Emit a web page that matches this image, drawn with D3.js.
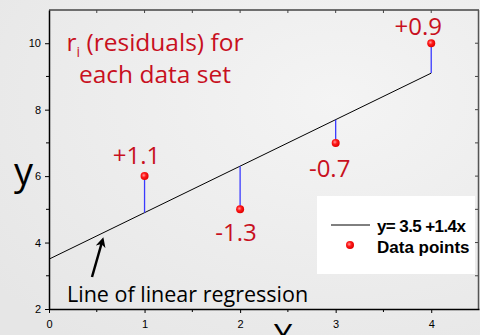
<!DOCTYPE html>
<html>
<head>
<meta charset="utf-8">
<script src="https://cdn.jsdelivr.net/npm/d3@7"></script>
<style>
  body { margin: 0; background: #ececec; }
  svg { display: block; }
</style>
</head>
<body>
<div id="chart"></div>
<script>
// data
var xValues = [1, 2, 3, 4];
var yValues = [6, 5, 7, 10];
var intercept = 3.5;
var slope = 1.4;
var residualLabels = ["+1.1", "-1.3", "-0.7", "+0.9"];
var xTicks = [0, 1, 2, 3, 4];
var yTicks = [2, 4, 6, 8, 10];

var width = 480, height = 335;
var margin = { top: 10, right: 1, bottom: 26, left: 49 };

var svg = d3.select("#chart").append("svg")
  .attr("width", width)
  .attr("height", height);

// faded photo-ish background
var defs = svg.append("defs");
var bg = defs.append("radialGradient").attr("id", "bg").attr("cx", "70%").attr("cy", "30%").attr("r", "90%");
bg.append("stop").attr("offset", "0%").attr("stop-color", "#f4f4f4");
bg.append("stop").attr("offset", "100%").attr("stop-color", "#e6e6e6");
var dotGrad = defs.append("radialGradient").attr("id", "dot").attr("cx", "40%").attr("cy", "40%").attr("r", "60%");
dotGrad.append("stop").attr("offset", "0%").attr("stop-color", "#ff9a9a");
dotGrad.append("stop").attr("offset", "45%").attr("stop-color", "#ff1a1a");
dotGrad.append("stop").attr("offset", "100%").attr("stop-color", "#e00000");

svg.append("rect").attr("width", width).attr("height", height).attr("fill", "url(#bg)");

var xScale = d3.scaleLinear().domain([0, 4.5]).range([margin.left, width - margin.right]);
var yScale = d3.scaleLinear().domain([2, 11]).range([height - margin.bottom, margin.top]);

// frame: top and right in gray
svg.append("line")
  .attr("x1", xScale(0)).attr("x2", xScale(4.5))
  .attr("y1", yScale(11)).attr("y2", yScale(11))
  .attr("stroke", "#6e6e6e").attr("stroke-width", 2);
svg.append("line")
  .attr("x1", xScale(4.5) - 0.5).attr("x2", xScale(4.5) - 0.5)
  .attr("y1", yScale(11)).attr("y2", yScale(2))
  .attr("stroke", "#555").attr("stroke-width", 1.5);

// inward ticks on top and right
d3.range(0.5, 4.5, 0.5).forEach(function(v) {
  svg.append("line")
    .attr("x1", xScale(v)).attr("x2", xScale(v))
    .attr("y1", yScale(11)).attr("y2", yScale(11) + 3)
    .attr("stroke", "#444");
});
d3.range(3, 11, 1).forEach(function(v) {
  svg.append("line")
    .attr("x1", xScale(4.5) - 1).attr("x2", xScale(4.5) - 4)
    .attr("y1", yScale(v)).attr("y2", yScale(v))
    .attr("stroke", "#444");
});

// axes
var xAxis = svg.append("g")
  .attr("transform", "translate(0," + yScale(2) + ")")
  .call(d3.axisBottom(xScale).tickValues(xTicks).tickFormat(d3.format("d")).tickSize(4).tickSizeOuter(0));
var yAxis = svg.append("g")
  .attr("transform", "translate(" + xScale(0) + ",0)")
  .call(d3.axisLeft(yScale).tickValues(yTicks).tickFormat(d3.format("d")).tickSize(4).tickSizeOuter(0));

[xAxis, yAxis].forEach(function(a) {
  a.select(".domain").attr("stroke", "#000").attr("stroke-width", 1.5);
  a.selectAll(".tick line").attr("stroke", "#000");
  a.selectAll(".tick text")
    .attr("fill", "#000")
    .style("font-family", "Liberation Sans, Arial, sans-serif")
    .style("font-size", "11px");
});
xAxis.selectAll(".tick text").attr("dy", "1.05em");
yAxis.selectAll(".tick text").attr("dx", "-1px");

// minor ticks
[0.5, 1.5, 2.5, 3.5].forEach(function(v) {
  svg.append("line")
    .attr("x1", xScale(v)).attr("x2", xScale(v))
    .attr("y1", yScale(2)).attr("y2", yScale(2) + 3)
    .attr("stroke", "#000");
});
[3, 5, 7, 9].forEach(function(v) {
  svg.append("line")
    .attr("x1", xScale(0)).attr("x2", xScale(0) - 3)
    .attr("y1", yScale(v)).attr("y2", yScale(v))
    .attr("stroke", "#000");
});

// regression line
var fit = function(x) { return intercept + slope * x; };
svg.append("line")
  .attr("x1", xScale(0)).attr("y1", yScale(fit(0)))
  .attr("x2", xScale(4)).attr("y2", yScale(fit(4)))
  .attr("stroke", "#000").attr("stroke-width", 1);

// residuals
svg.selectAll(".resid")
  .data(xValues)
  .enter().append("line")
  .attr("class", "resid")
  .attr("x1", function(d) { return xScale(d); })
  .attr("x2", function(d) { return xScale(d); })
  .attr("y1", function(d, i) { return yScale(yValues[i]); })
  .attr("y2", function(d) { return yScale(fit(d)); })
  .attr("stroke", "#3a3aff").attr("stroke-width", 1.3);

// points
svg.selectAll(".pt")
  .data(xValues)
  .enter().append("circle")
  .attr("class", "pt")
  .attr("cx", function(d) { return xScale(d); })
  .attr("cy", function(d, i) { return yScale(yValues[i]); })
  .attr("r", 4)
  .attr("fill", "url(#dot)");

// residual labels
var labelPos = [
  { dx: -8, dy: -12 },
  { dx: -4, dy: 32 },
  { dx: -6, dy: 34 },
  { dx: -13, dy: -8 }
];
svg.selectAll(".rlab")
  .data(xValues)
  .enter().append("text")
  .attr("class", "rlab")
  .attr("x", function(d, i) { return xScale(d) + labelPos[i].dx; })
  .attr("y", function(d, i) { return yScale(yValues[i]) + labelPos[i].dy; })
  .attr("text-anchor", "middle")
  .attr("fill", "#c8101e")
  .style("font-family", "Open Sans, Noto Sans, sans-serif")
  .style("font-size", "24px")
  .text(function(d, i) { return residualLabels[i]; });

// title text
var title = svg.append("text")
  .attr("x", 155).attr("y", 51)
  .attr("text-anchor", "middle")
  .attr("fill", "#c8101e")
  .style("font-family", "Open Sans, Noto Sans, sans-serif")
  .style("font-size", "24.5px");
title.append("tspan").text("r");
title.append("tspan").attr("dy", 6).style("font-size", "14px").text("i");
title.append("tspan").attr("dy", -6).text(" (residuals) for");
svg.append("text")
  .attr("x", 155).attr("y", 83)
  .attr("text-anchor", "middle")
  .attr("fill", "#c8101e")
  .style("font-family", "Open Sans, Noto Sans, sans-serif")
  .style("font-size", "24.5px")
  .text("each data set");

// axis labels
svg.append("text")
  .attr("x", 14).attr("y", 185)
  .attr("fill", "#000")
  .style("font-family", "Open Sans, Noto Sans, sans-serif")
  .style("font-size", "38px")
  .text("y");
svg.append("text")
  .attr("x", 283).attr("y", 349)
  .attr("text-anchor", "middle")
  .attr("fill", "#000")
  .style("font-family", "Open Sans, Noto Sans, sans-serif")
  .style("font-size", "34px")
  .text("X");

// regression annotation
svg.append("text")
  .attr("x", 67).attr("y", 302)
  .attr("fill", "#000")
  .style("font-family", "Open Sans, Noto Sans, sans-serif")
  .style("font-size", "21.5px")
  .text("Line of linear regression");

defs.append("marker")
  .attr("id", "arrow")
  .attr("viewBox", "0 0 10 10")
  .attr("refX", 5).attr("refY", 5)
  .attr("markerWidth", 4).attr("markerHeight", 4)
  .attr("orient", "auto")
  .append("path").attr("d", "M0,0 L10,5 L0,10 L3,5 Z").attr("fill", "#000");
svg.append("line")
  .attr("x1", 92).attr("y1", 277)
  .attr("x2", 102).attr("y2", 242)
  .attr("stroke", "#000").attr("stroke-width", 2.5)
  .attr("marker-end", "url(#arrow)");

// legend
var lg = svg.append("g").attr("transform", "translate(317,196)");
lg.append("rect").attr("width", 158).attr("height", 78).attr("fill", "#fff");
lg.append("line").attr("x1", 14).attr("x2", 53).attr("y1", 29).attr("y2", 29)
  .attr("stroke", "#000").attr("stroke-width", 1);
lg.append("circle").attr("cx", 33).attr("cy", 49).attr("r", 4).attr("fill", "url(#dot)");
lg.append("text").attr("x", 60).attr("y", 36)
  .style("font-family", "Liberation Sans, Arial, sans-serif")
  .style("font-size", "17px").style("font-weight", "bold")
  .style("letter-spacing", "-0.6px")
  .text("y= 3.5 +1.4x");
lg.append("text").attr("x", 60).attr("y", 57)
  .style("font-family", "Liberation Sans, Arial, sans-serif")
  .style("font-size", "17px").style("font-weight", "bold")
  .text("Data points");
</script>
</body>
</html>
